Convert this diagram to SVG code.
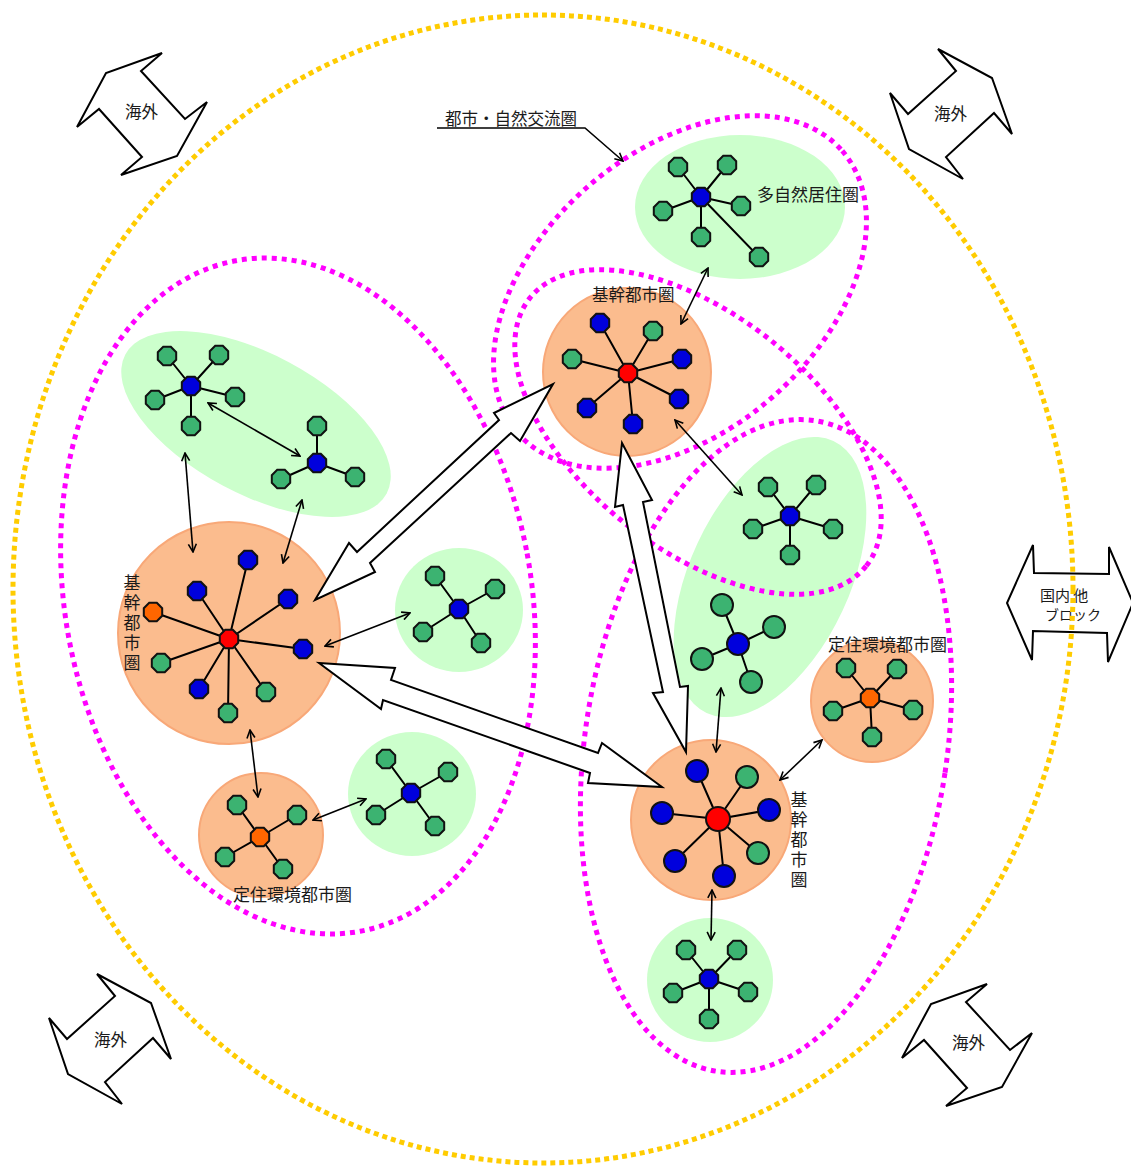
<svg xmlns="http://www.w3.org/2000/svg" width="1131" height="1169" viewBox="0 0 1131 1169">
<style>
text{font-family:"Noto Sans CJK JP","Noto Sans CJK SC",sans-serif;font-size:16.5px;fill:#1a1a1a}
.lb{font-size:17px}
.vt{font-size:17px;writing-mode:vertical-rl;letter-spacing:3px}
.y{fill:none;stroke:#FFCC00;stroke-width:5;stroke-dasharray:5 4}
.m{fill:none;stroke:#FF00FF;stroke-width:5;stroke-dasharray:5 5}
.gz{fill:#CCFFCC}
.oz{fill:#FBBC8E;stroke:#F8A878;stroke-width:2}
.sp{stroke:#000;stroke-width:2;fill:none}
.n{stroke:#111;stroke-width:2}
.G{fill:#3CB371}.B{fill:#0000DD}.R{fill:#FF0000}.O{fill:#FF6600}
.blk{fill:#fff;stroke:#000;stroke-width:2}
.ar{stroke:#000;stroke-width:1.6;fill:none;marker-start:url(#h);marker-end:url(#h)}
</style>
<defs>
<polygon id="o" points="3.8,-9.2 9.2,-3.8 9.2,3.8 3.8,9.2 -3.8,9.2 -9.2,3.8 -9.2,-3.8 -3.8,-9.2"/>
<marker id="h" viewBox="0 0 10 10" refX="9" refY="5" markerWidth="10" markerHeight="10" orient="auto-start-reverse" markerUnits="userSpaceOnUse"><path d="M1,1 L9,5 L1,9" fill="none" stroke="#000" stroke-width="1.6"/></marker>
</defs>

<g id="zones">
<ellipse cx="740" cy="207" rx="105" ry="72" class="gz"/>
<ellipse cx="256" cy="424" rx="148" ry="70" transform="rotate(28 256 424)" class="gz"/>
<ellipse cx="459" cy="610" rx="64" ry="62" class="gz"/>
<ellipse cx="412" cy="794" rx="64" ry="62" class="gz"/>
<ellipse cx="770" cy="577" rx="80" ry="150" transform="rotate(25 770 577)" class="gz"/>
<ellipse cx="710" cy="980" rx="63" ry="62" class="gz"/>
<circle cx="627" cy="372" r="84" class="oz"/>
<circle cx="229" cy="633" r="111" class="oz"/>
<circle cx="261" cy="835" r="62" class="oz"/>
<circle cx="872" cy="701" r="61" class="oz"/>
<circle cx="711" cy="820" r="80" class="oz"/>
</g>

<g id="regions">
<ellipse cx="298" cy="596" rx="233" ry="341" transform="rotate(-10.5 298 596)" class="m"/>
<ellipse cx="680" cy="292" rx="215" ry="140" transform="rotate(-41 680 292)" class="m"/>
<ellipse cx="698" cy="432" rx="215" ry="117" transform="rotate(38.6 698 432)" class="m"/>
<ellipse cx="766" cy="746" rx="181" ry="329" transform="rotate(8.6 766 746)" class="m"/>
</g>

<g id="connectors">
<polygon class="blk" points="315,600 349,543 357,552 499,420 494,413 553,384 520,441 511,433 370,563 375,572"/>
<polygon class="blk" points="319,663 395,668 391,680 598,753 602,743 662,787 588,783 590,773 383,700 381,709"/>
<polygon class="blk" points="622,443 652,500 643,502 680,687 688,686 686,752 653,693 663,692 623,505 615,507"/>
<line class="ar" x1="208" y1="403" x2="300" y2="456"/>
<line class="ar" x1="185" y1="453" x2="193" y2="552"/>
<line class="ar" x1="302" y1="500" x2="283" y2="563"/>
<line class="ar" x1="325" y1="646" x2="410" y2="613"/>
<line class="ar" x1="250" y1="730" x2="258" y2="797"/>
<line class="ar" x1="313" y1="820" x2="366" y2="799"/>
<line class="ar" x1="708" y1="268" x2="681" y2="324"/>
<line class="ar" x1="675" y1="420" x2="742" y2="495"/>
<line class="ar" x1="721" y1="688" x2="716" y2="752"/>
<line class="ar" x1="822" y1="740" x2="780" y2="780"/>
<line class="ar" x1="712" y1="890" x2="711" y2="940"/>
<polyline points="437,128 585,128 623,161" fill="none" stroke="#000" stroke-width="1.6" marker-end="url(#h)"/>
</g>

<g id="cluster-tashizen">
<path class="sp" d="M701,197L678,167M701,197L727,165M701,197L663,211M701,197L741,206M701,197L701,237M701,197L759,257"/>
<use href="#o" x="678" y="167" class="n G"/><use href="#o" x="727" y="165" class="n G"/><use href="#o" x="663" y="211" class="n G"/><use href="#o" x="741" y="206" class="n G"/><use href="#o" x="701" y="237" class="n G"/><use href="#o" x="759" y="257" class="n G"/>
<use href="#o" x="701" y="197" class="n B"/>
<text class="lb" x="757" y="201">多自然居住圏</text>
</g>

<g id="cluster-top-core">
<path class="sp" d="M628,373L600,323M628,373L653,331M628,373L572,359M628,373L682,359M628,373L587,408M628,373L679,399M628,373L633,424"/>
<use href="#o" x="600" y="323" class="n B"/><use href="#o" x="653" y="331" class="n G"/><use href="#o" x="572" y="359" class="n G"/><use href="#o" x="682" y="359" class="n B"/><use href="#o" x="587" y="408" class="n B"/><use href="#o" x="679" y="399" class="n B"/><use href="#o" x="633" y="424" class="n B"/>
<use href="#o" x="628" y="373" class="n R"/>
<text x="592" y="301">基幹都市圏</text>
</g>

<g id="cluster-lt1">
<path class="sp" d="M191,386L167,356M191,386L219,355M191,386L155,400M191,386L235,397M191,386L191,426"/>
<use href="#o" x="167" y="356" class="n G"/><use href="#o" x="219" y="355" class="n G"/><use href="#o" x="155" y="400" class="n G"/><use href="#o" x="235" y="397" class="n G"/><use href="#o" x="191" y="426" class="n G"/>
<use href="#o" x="191" y="386" class="n B"/>
</g>
<g id="cluster-lt2">
<path class="sp" d="M317,463L317,426M317,463L281,479M317,463L355,477"/>
<use href="#o" x="317" y="426" class="n G"/><use href="#o" x="281" y="479" class="n G"/><use href="#o" x="355" y="477" class="n G"/>
<use href="#o" x="317" y="463" class="n B"/>
</g>

<g id="cluster-left-core">
<path class="sp" d="M229,639L248,560M229,639L197,591M229,639L153,612M229,639L288,599M229,639L303,649M229,639L161,663M229,639L199,689M229,639L266,692M229,639L228,713"/>
<use href="#o" x="248" y="560" class="n B"/><use href="#o" x="197" y="591" class="n B"/><use href="#o" x="153" y="612" class="n O"/><use href="#o" x="288" y="599" class="n B"/><use href="#o" x="303" y="649" class="n B"/><use href="#o" x="161" y="663" class="n G"/><use href="#o" x="199" y="689" class="n B"/><use href="#o" x="266" y="692" class="n G"/><use href="#o" x="228" y="713" class="n G"/>
<use href="#o" x="229" y="639" class="n R"/>
<text class="vt" x="132" y="574">基幹都市圏</text>
</g>

<g id="cluster-mid">
<path class="sp" d="M459,609L435,576M459,609L495,589M459,609L423,632M459,609L481,643"/>
<use href="#o" x="435" y="576" class="n G"/><use href="#o" x="495" y="589" class="n G"/><use href="#o" x="423" y="632" class="n G"/><use href="#o" x="481" y="643" class="n G"/>
<use href="#o" x="459" y="609" class="n B"/>
</g>

<g id="cluster-lb-green">
<path class="sp" d="M411,793L386,759M411,793L448,772M411,793L376,815M411,793L435,826"/>
<use href="#o" x="386" y="759" class="n G"/><use href="#o" x="448" y="772" class="n G"/><use href="#o" x="376" y="815" class="n G"/><use href="#o" x="435" y="826" class="n G"/>
<use href="#o" x="411" y="793" class="n B"/>
</g>

<g id="cluster-lb-settle">
<path class="sp" d="M260,837L237,805M260,837L297,815M260,837L225,857M260,837L283,869"/>
<use href="#o" x="237" y="805" class="n G"/><use href="#o" x="297" y="815" class="n G"/><use href="#o" x="225" y="857" class="n G"/><use href="#o" x="283" y="869" class="n G"/>
<use href="#o" x="260" y="837" class="n O"/>
<text class="lb" x="233" y="901">定住環境都市圏</text>
</g>

<g id="cluster-ru-green">
<path class="sp" d="M790,516L768,487M790,516L816,485M790,516L753,529M790,516L833,529M790,516L790,555"/>
<use href="#o" x="768" y="487" class="n G"/><use href="#o" x="816" y="485" class="n G"/><use href="#o" x="753" y="529" class="n G"/><use href="#o" x="833" y="529" class="n G"/><use href="#o" x="790" y="555" class="n G"/>
<use href="#o" x="790" y="516" class="n B"/>
</g>

<g id="cluster-rl-green">
<path class="sp" d="M738,644L722,605M738,644L774,627M738,644L702,659M738,644L751,682"/>
<circle cx="722" cy="605" r="11" class="n G"/><circle cx="774" cy="627" r="11" class="n G"/><circle cx="702" cy="659" r="11" class="n G"/><circle cx="751" cy="682" r="11" class="n G"/>
<circle cx="738" cy="644" r="11" class="n B"/>
</g>

<g id="cluster-r-settle">
<path class="sp" d="M870,698L846,668M870,698L897,669M870,698L833,711M870,698L913,710M870,698L872,737"/>
<use href="#o" x="846" y="668" class="n G"/><use href="#o" x="897" y="669" class="n G"/><use href="#o" x="833" y="711" class="n G"/><use href="#o" x="913" y="710" class="n G"/><use href="#o" x="872" y="737" class="n G"/>
<use href="#o" x="870" y="698" class="n O"/>
<text class="lb" x="828" y="651">定住環境都市圏</text>
</g>

<g id="cluster-br-core">
<path class="sp" d="M718,819L697,771M718,819L747,777M718,819L662,813M718,819L769,810M718,819L675,861M718,819L758,853M718,819L724,876"/>
<circle cx="697" cy="771" r="11" class="n B"/><circle cx="747" cy="777" r="11" class="n G"/><circle cx="662" cy="813" r="11" class="n B"/><circle cx="769" cy="810" r="11" class="n B"/><circle cx="675" cy="861" r="11" class="n B"/><circle cx="758" cy="853" r="11" class="n G"/><circle cx="724" cy="876" r="11" class="n B"/>
<circle cx="718" cy="819" r="12" class="n R"/>
<text class="vt" x="799" y="791">基幹都市圏</text>
</g>

<g id="cluster-bottom-green">
<path class="sp" d="M709,979L686,950M709,979L737,950M709,979L673,993M709,979L748,992M709,979L709,1019"/>
<use href="#o" x="686" y="950" class="n G"/><use href="#o" x="737" y="950" class="n G"/><use href="#o" x="673" y="993" class="n G"/><use href="#o" x="748" y="992" class="n G"/><use href="#o" x="709" y="1019" class="n G"/>
<use href="#o" x="709" y="979" class="n B"/>
</g>

<g id="overseas-tl">
<polygon class="blk" points="162,53 141,71 185,119 207,102 177,156 121,175 142,157 99,109 77,127 106,73"/>
<text x="125" y="118">海外</text>
</g>
<g id="overseas-tr">
<polygon class="blk" points="1012,134 994,113 946,157 963,179 909,149 890,93 908,114 956,71 938,49 992,78"/>
<text x="934" y="120">海外</text>
</g>
<g id="overseas-bl">
<polygon class="blk" points="171,1059 153,1038 105,1082 122,1104 68,1074 49,1018 67,1039 115,996 97,974 151,1003"/>
<text x="94" y="1046">海外</text>
</g>
<g id="overseas-br">
<polygon class="blk" points="987,984 966,1002 1010,1050 1032,1033 1002,1087 946,1106 967,1088 924,1040 902,1058 931,1004"/>
<text x="952" y="1049">海外</text>
</g>

<g id="domestic">
<polygon class="blk" points="1033,545 1034,573 1109,574 1109,547 1133,603 1108,662 1107,633 1033,631 1032,660 1007,603"/>
<text x="1040" y="601" style="font-size:15px">国内 他</text>
<text x="1045" y="620" style="font-size:14px">ブロック</text>
</g>

<g id="outer">
<ellipse cx="543" cy="589" rx="530" ry="574" class="y"/>
</g>
<text x="445" y="125">都市・自然交流圏</text>
</svg>
